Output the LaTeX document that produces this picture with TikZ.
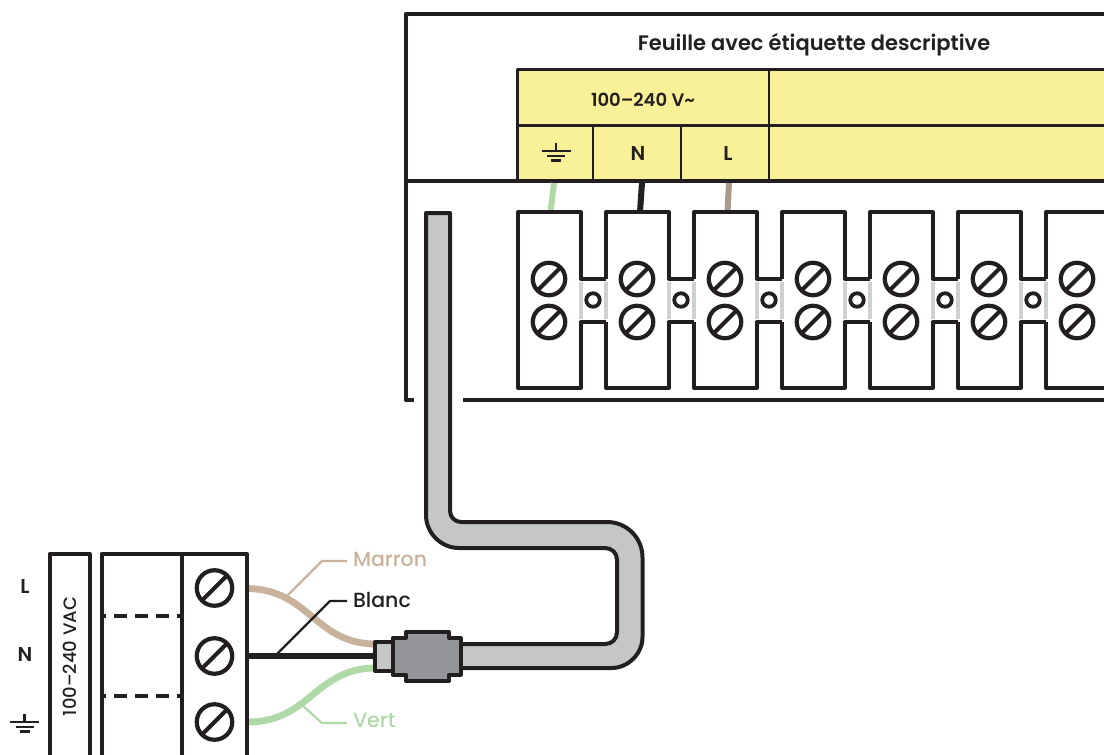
\documentclass[tikz,border=0pt]{standalone}
\usepackage{fontspec}
\setmainfont{Poppins}
\newfontfamily\medfont{Poppins Medium}
\newfontfamily\semifont{Poppins SemiBold}
\usepackage{xcolor}
\usetikzlibrary{calc}
\definecolor{ink}{HTML}{231F20}
\definecolor{sheet}{HTML}{F9F197}
\definecolor{sleeve}{HTML}{C5C6C8}
\definecolor{gland}{HTML}{939598}
\definecolor{strip}{HTML}{CFD0D1}
\definecolor{marron}{HTML}{C9B29B}
\definecolor{vert}{HTML}{B0D9A8}
\definecolor{taupe}{HTML}{A99A8D}

\begin{document}
\begin{tikzpicture}[x=1pt,y=-1pt,line join=round,line width=4pt,draw=ink,text=ink]
	\tikzstyle{screw}=[draw=ink, circle, line width=4.2pt, inner sep=0pt, outer sep=0pt, fill=white, minimum size=32.5pt]
	\tikzstyle{bigscrew}=[screw, minimum size=35.5pt]
	\tikzstyle{link}=[draw=ink, circle, line width=3.8pt, inner sep=0pt, outer sep=0pt, minimum size=13.5pt]
	\tikzstyle{thin}=[line width=2.2pt]
	\tikzstyle{wire}=[line width=6.8pt]
	\tikzstyle{tag}=[font=\medfont\fontsize{20.5}{20.5}\selectfont, anchor=west, inner sep=0pt]
	\tikzstyle{cell}=[font=\semifont\fontsize{20}{20}\selectfont, inner sep=0pt]
	\useasboundingbox (0,0) rectangle (1104,755);

	% label sheet
	\fill[sheet] (517.5,69.5) rectangle (1106,181);
	\draw[thin] (1106,69.5) -- (517.5,69.5) -- (517.5,181);
	\draw[thin] (517.5,125.5) -- (1106,125.5);
	\draw[thin] (769,69.5) -- (769,181);
	\draw[thin] (593,125.5) -- (593,181);
	\draw[thin] (681,125.5) -- (681,181);
	\node[font=\semifont\fontsize{21}{21}\selectfont, inner sep=0pt] (title) at (814,44.5) {Feuille avec étiquette descriptive};
	\node[cell, font=\semifont\fontsize{18}{18}\selectfont] (volt) at (643,100) {100–240 V\textasciitilde};
	\node[cell] (cn) at (638,154) {N};
	\node[cell] (cl) at (728,154) {L};

	% housing
	\draw (1106,14) -- (405.5,14) -- (405.5,400) -- (414,400);
	\draw (463,400) -- (1106,400);
	\draw (405.5,181) -- (1106,181);

	% wires up to the sheet
	\coordinate (w1) at (554,183);
	\coordinate (w2) at (642,183);
	\coordinate (w3) at (729,183);
	\draw[vert,line width=6pt] (w1) -- (550.5,212);
	\draw[ink,line width=6pt] (w2) -- (640,212);
	\draw[taupe,line width=6pt] (w3) -- (727.5,212);

	% terminal strip
	\draw (518,279) -- (518,322);
	\foreach \i/\x in {1/518,2/606,3/694,4/782,5/870,6/958,7/1046}{
		\draw[strip,line width=4pt] (\x+62.5,282) -- (\x+62.5,319);
		\draw[strip,line width=4pt] (\x+88,282) -- (\x+88,319);
		\draw (\x,279) -- (\x,212) -- (\x+62.5,212) -- (\x+62.5,279) -- (\x+88,279);
		\draw (\x,322) -- (\x,388) -- (\x+62.5,388) -- (\x+62.5,322) -- (\x+88,322);
		\node[screw] (a\i) at (\x+31,279) {};
		\node[screw] (b\i) at (\x+31,322) {};
		\node[link] (c\i) at (\x+75,300) {};
		\draw[line width=4.2pt] (a\i.225) -- (a\i.45);
		\draw[line width=4.2pt] (b\i.225) -- (b\i.45);
	}

	% ground symbols
	\foreach \x/\y in {556/143,24.5/714}{
		\draw[line width=2.6pt] (\x,\y) -- (\x,\y+8);
		\draw[line width=2.6pt] (\x-14.5,\y+8) -- (\x+14.5,\y+8);
		\draw[line width=2.6pt] (\x-9,\y+13) -- (\x+9,\y+13);
		\draw[line width=2.6pt] (\x-5,\y+17.5) -- (\x+5,\y+17.5);
	}

	% cable
	\draw[fill=sleeve] (426,213) -- (450,213) -- (450,511)
		.. controls (450,517) and (455,522) .. (461,522) -- (607,522)
		.. controls (627,522) and (642.5,538) .. (642.5,557.5) -- (642.5,637)
		.. controls (642.5,654) and (628,668) .. (611.5,668) -- (458,668) -- (458,644) -- (605,644)
		.. controls (612,644) and (617,639) .. (617,632) -- (617,560)
		.. controls (617,553) and (612,548) .. (605,548) -- (459,548)
		.. controls (441,548) and (426,533) .. (426,515) -- cycle;

	% wires to the plug
	\coordinate (m0) at (248,588.5);
	\coordinate (m1) at (376,644);
	\coordinate (n0) at (248,656);
	\coordinate (n1) at (376,656);
	\coordinate (v0) at (248,722);
	\coordinate (v1) at (376,668);
	\draw[marron,wire] (m0) .. controls (310,590) and (315,644) .. (m1);
	\draw[vert,wire] (v0) .. controls (310,722) and (315,668) .. (v1);
	\draw[ink,wire] (n0) -- (n1);

	% gland
	\draw[fill=sleeve] (375,642) rectangle (393,671);
	\draw[fill=gland] (392.5,638) -- (406,638) -- (406,632) -- (449,632) -- (449,638) -- (460.5,638) -- (460.5,674.5) -- (449,674.5) -- (449,681) -- (406,681) -- (406,674.5) -- (392.5,674.5) -- cycle;

	% wire labels
	\node[tag,text=marron] (lm) at (351,559.5) {Marron};
	\node[tag] (lb) at (351,600) {Blanc};
	\node[tag,text=vert] (lv) at (351,720.5) {Vert};
	\coordinate (m2) at (347,561);
	\coordinate (b2) at (347,601);
	\coordinate (v2) at (347,723);
	\draw[marron,thin] (288,595) -- (322,561) -- (m2);
	\draw[thin] (275,656) -- (330,601) -- (b2);
	\draw[vert,thin] (303,706) -- (322,723) -- (v2);

	% mains connector
	\draw (49.5,757) -- (49.5,554) -- (89.5,554) -- (89.5,757);
	\draw (101.5,757) -- (101.5,554) -- (247,554) -- (247,757);
	\draw (182,554) -- (182,757);
	\draw[dash pattern=on 13.3pt off 7.7pt,dash phase=9pt,line width=3.8pt] (101.5,616) -- (182,616);
	\draw[dash pattern=on 13.3pt off 7.7pt,dash phase=9pt,line width=3.8pt] (101.5,696) -- (182,696);
	\foreach \i/\y in {1/588,2/656,3/722}{
		\node[bigscrew] (d\i) at (214.5,\y) {};
		\draw[line width=4.2pt] (d\i.225) -- (d\i.45);
	}
	\node[cell] (pl) at (25,587) {L};
	\node[cell] (pn) at (25,655) {N};
	\node[cell, font=\medfont\fontsize{18}{18}\selectfont, rotate=90] (pv) at (70,656.5) {100–240 VAC};
\end{tikzpicture}
\end{document}
